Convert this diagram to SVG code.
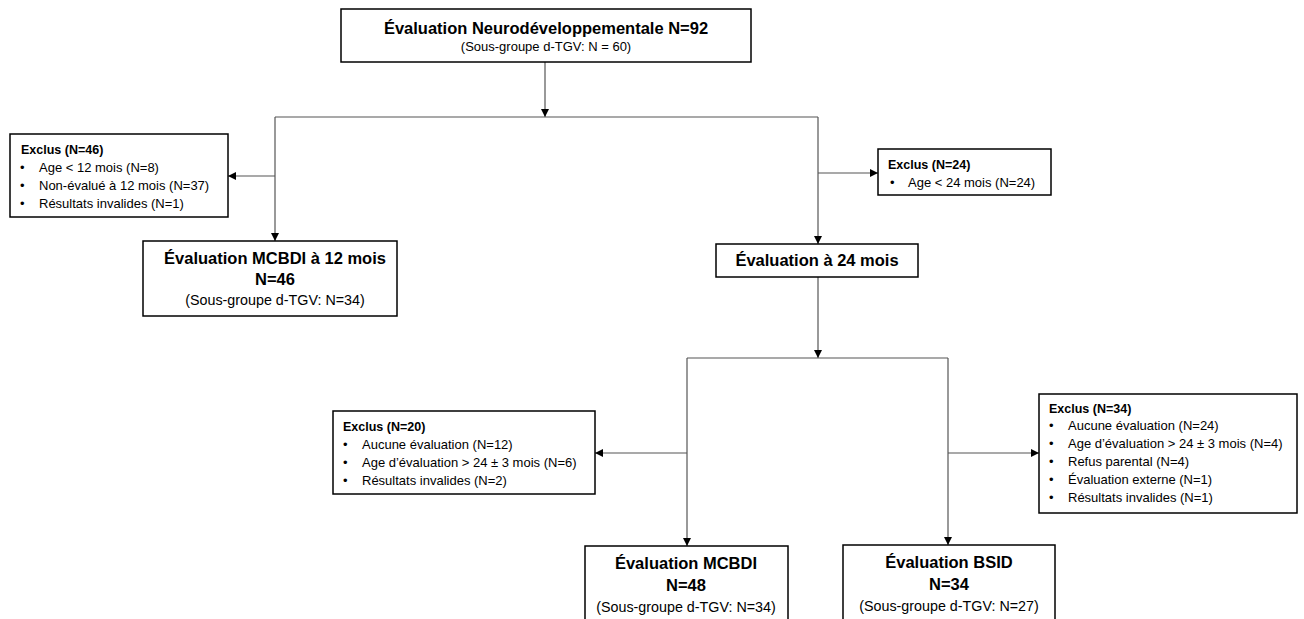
<svg xmlns="http://www.w3.org/2000/svg" width="1304" height="619" viewBox="0 0 1304 619">
<defs>
<style>
.box{fill:#fff;stroke:#000;stroke-width:1.5}
.t{font-family:"Liberation Sans",Arial,sans-serif;fill:#000}
.h{font-size:16.5px;font-weight:bold;text-anchor:middle}
.s{font-size:13px;text-anchor:middle}
.s2{font-size:14.3px;text-anchor:middle}
.xh{font-size:12.5px;font-weight:bold}
.xi{font-size:13px}
.c{stroke:#555;stroke-width:1.2;fill:none}
</style>
<marker id="ah" viewBox="0 0 10 10" refX="10" refY="5" markerWidth="8" markerHeight="8" markerUnits="userSpaceOnUse" orient="auto">
<path d="M0,0 L10,5 L0,10 z" fill="#000"/>
</marker>
</defs>
<rect width="1304" height="619" fill="#fff"/>
<g id="connectors">
<line class="c" x1="545" y1="62" x2="545" y2="117" marker-end="url(#ah)"/>
<line class="c" x1="275" y1="117" x2="818" y2="117"/>
<line class="c" x1="275" y1="117" x2="275" y2="241" marker-end="url(#ah)"/>
<line class="c" x1="275" y1="176" x2="228" y2="176" marker-end="url(#ah)"/>
<line class="c" x1="818" y1="117" x2="818" y2="244" marker-end="url(#ah)"/>
<line class="c" x1="818" y1="173" x2="878" y2="173" marker-end="url(#ah)"/>
<line class="c" x1="818" y1="277" x2="818" y2="358" marker-end="url(#ah)"/>
<line class="c" x1="687" y1="358" x2="948" y2="358"/>
<line class="c" x1="687" y1="358" x2="687" y2="546" marker-end="url(#ah)"/>
<line class="c" x1="687" y1="453" x2="595" y2="453" marker-end="url(#ah)"/>
<line class="c" x1="948" y1="358" x2="948" y2="545" marker-end="url(#ah)"/>
<line class="c" x1="948" y1="453" x2="1039" y2="453" marker-end="url(#ah)"/>
</g>
<g id="n-top">
<rect class="box" x="341" y="9" width="410" height="53"/>
<text class="t h" x="546" y="34">Évaluation Neurodéveloppementale N=92</text>
<text class="t s" x="546" y="51">(Sous-groupe d-TGV: N = 60)</text>
</g>
<g id="n-excl46">
<rect class="box" x="10" y="134" width="218" height="83"/>
<text class="t xh" x="21" y="154">Exclus (N=46)</text>
<text class="t xi" x="20" y="172">•</text><text class="t xi" x="39" y="172">Age &lt; 12 mois (N=8)</text>
<text class="t xi" x="20" y="190">•</text><text class="t xi" x="39" y="190">Non-évalué à 12 mois (N=37)</text>
<text class="t xi" x="20" y="208">•</text><text class="t xi" x="39" y="208">Résultats invalides (N=1)</text>
</g>
<g id="n-mcbdi12">
<rect class="box" x="143" y="241" width="254" height="75"/>
<text class="t h" x="275" y="264">Évaluation MCBDI à 12 mois</text>
<text class="t h" x="275" y="285">N=46</text>
<text class="t s2" x="275" y="305">(Sous-groupe d-TGV: N=34)</text>
</g>
<g id="n-excl24">
<rect class="box" x="878" y="149" width="173" height="46"/>
<text class="t xh" x="888" y="169">Exclus (N=24)</text>
<text class="t xi" x="890" y="187">•</text><text class="t xi" x="908" y="187">Age &lt; 24 mois (N=24)</text>
</g>
<g id="n-eval24">
<rect class="box" x="716" y="244" width="202" height="33"/>
<text class="t h" x="817" y="266">Évaluation à 24 mois</text>
</g>
<g id="n-excl20">
<rect class="box" x="333" y="411" width="262" height="83"/>
<text class="t xh" x="343" y="431">Exclus (N=20)</text>
<text class="t xi" x="343" y="449">•</text><text class="t xi" x="362" y="449">Aucune évaluation (N=12)</text>
<text class="t xi" x="343" y="467">•</text><text class="t xi" x="362" y="467">Age d’évaluation &gt; 24 ± 3 mois (N=6)</text>
<text class="t xi" x="343" y="485">•</text><text class="t xi" x="362" y="485">Résultats invalides (N=2)</text>
</g>
<g id="n-excl34">
<rect class="box" x="1039" y="394" width="258" height="119"/>
<text class="t xh" x="1049" y="413">Exclus (N=34)</text>
<text class="t xi" x="1049" y="430">•</text><text class="t xi" x="1068" y="430">Aucune évaluation (N=24)</text>
<text class="t xi" x="1049" y="448">•</text><text class="t xi" x="1068" y="448">Age d’évaluation &gt; 24 ± 3 mois (N=4)</text>
<text class="t xi" x="1049" y="466">•</text><text class="t xi" x="1068" y="466">Refus parental (N=4)</text>
<text class="t xi" x="1049" y="484">•</text><text class="t xi" x="1068" y="484">Évaluation externe (N=1)</text>
<text class="t xi" x="1049" y="502">•</text><text class="t xi" x="1068" y="502">Résultats invalides (N=1)</text>
</g>
<g id="n-mcbdi">
<rect class="box" x="585" y="546" width="203" height="90"/>
<text class="t h" x="686" y="569">Évaluation MCBDI</text>
<text class="t h" x="686" y="591">N=48</text>
<text class="t s2" x="686" y="612">(Sous-groupe d-TGV: N=34)</text>
</g>
<g id="n-bsid">
<rect class="box" x="843" y="545" width="212" height="90"/>
<text class="t h" x="949" y="568">Évaluation BSID</text>
<text class="t h" x="949" y="590">N=34</text>
<text class="t s2" x="949" y="611">(Sous-groupe d-TGV: N=27)</text>
</g>
</svg>
